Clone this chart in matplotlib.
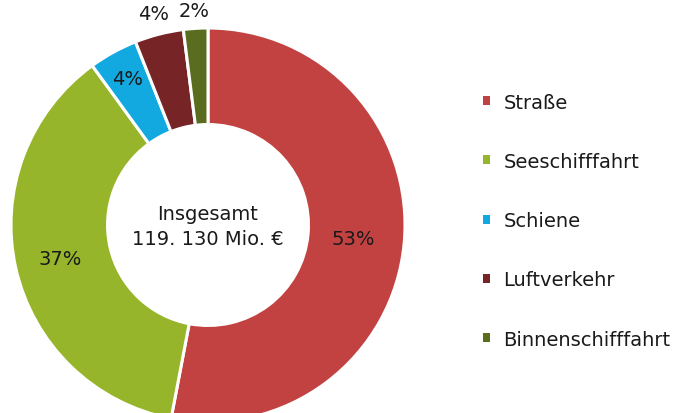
import numpy as np
import matplotlib.pyplot as plt
from matplotlib.patches import Patch

# Data
categories = ['Straße', 'Seeschifffahrt', 'Schiene', 'Luftverkehr', 'Binnenschifffahrt']
shares = [53, 37, 4, 4, 2]
colors = ['#C24242', '#97B52A', '#12A9E1', '#772427', '#5A6D1E']
label_dist = [0.74, 0.77, 0.85, 1.11, 1.09]
center_text = 'Insgesamt\n119. 130 Mio. €'

plt.rcParams['font.family'] = ['DejaVu Sans']

fig = plt.figure(figsize=(6.75, 4.14), dpi=100)
ax = fig.add_axes([0, 0, 1, 1])

cx, cy, R = 208, 188, 197
wedges, _ = ax.pie(shares, colors=colors, startangle=90, counterclock=False,
                   center=(cx, cy), radius=R,
                   wedgeprops=dict(width=R * 0.49, edgecolor='white', linewidth=2.2))

# percentage labels
for w, val, d in zip(wedges, shares, label_dist):
    ang = np.deg2rad((w.theta1 + w.theta2) / 2)
    ax.text(cx + d * R * np.cos(ang), cy + d * R * np.sin(ang), f'{val}%',
            ha='center', va='center', fontsize=14, color='#1a1a1a')

ax.text(cx, cy - 1, center_text, ha='center', va='center', fontsize=14,
        color='#1a1a1a', linespacing=1.45)

ax.set_xlim(0, 675)
ax.set_ylim(0, 414)
ax.set_aspect('equal')
ax.axis('off')

handles = [Patch(facecolor=c, edgecolor='none') for c in colors]
fig.legend(handles, categories, loc='upper left', bbox_to_anchor=(0.69, 0.816),
           frameon=False, fontsize=14, handlelength=0.34, handleheight=0.34,
           handletextpad=0.7, labelspacing=2.07, labelcolor='#1a1a1a')

fig.savefig('out.png', dpi=100)
